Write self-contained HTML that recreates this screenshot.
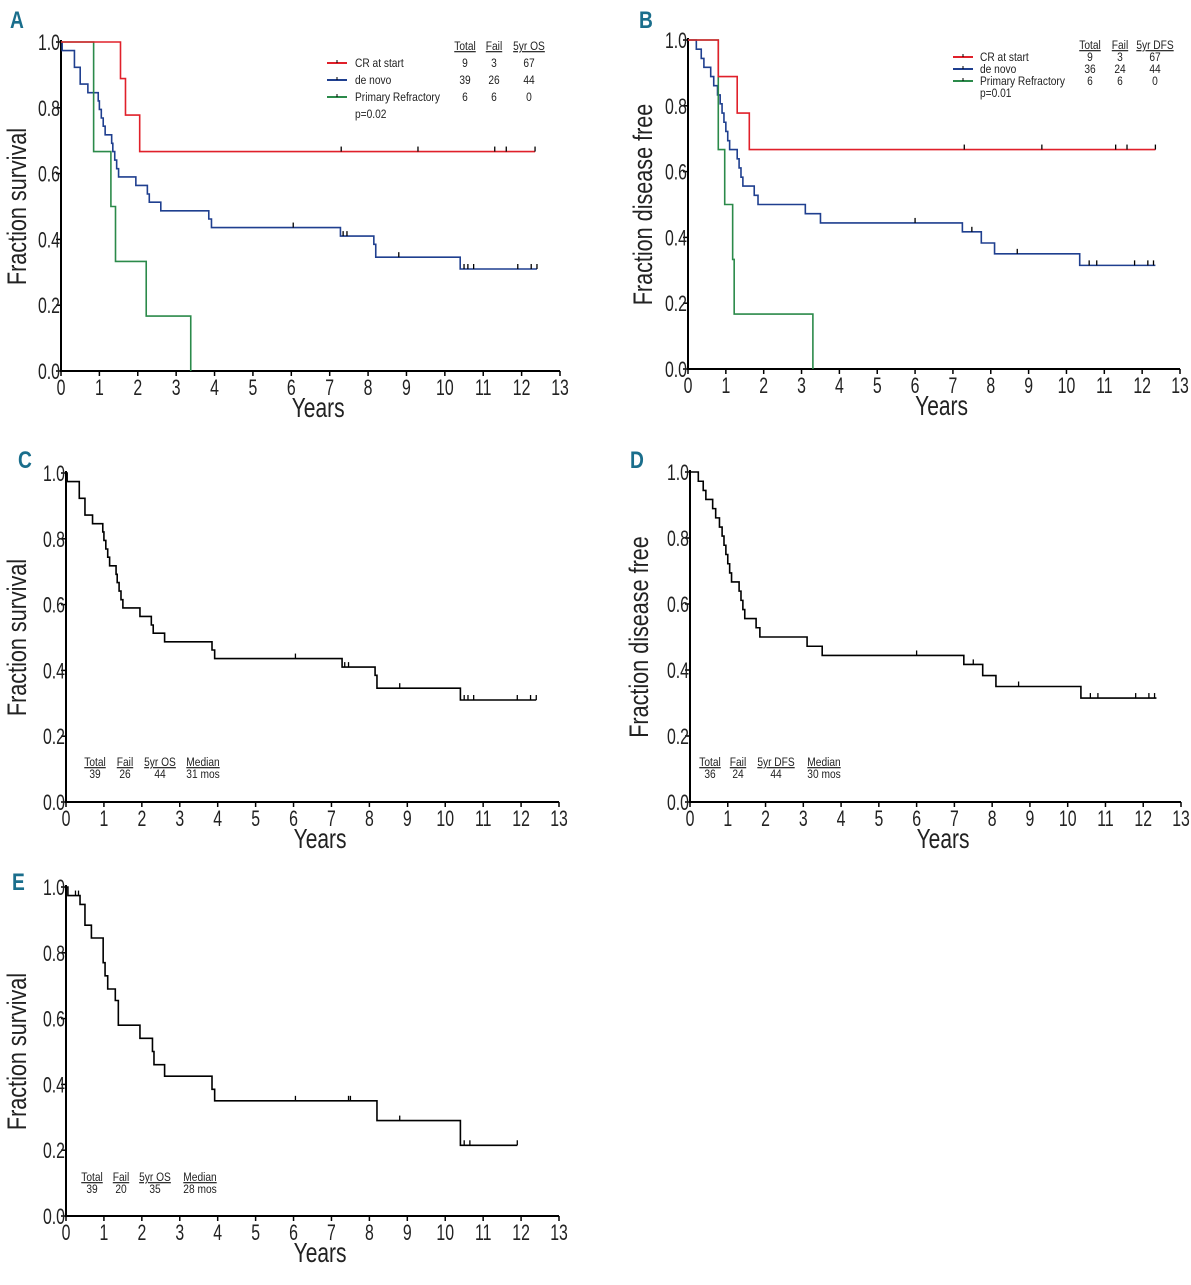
<!DOCTYPE html>
<html><head><meta charset="utf-8"><style>
body{margin:0;background:#fff}
svg text{font-family:"Liberation Sans",sans-serif}
</style></head><body>
<svg id="fig" xmlns="http://www.w3.org/2000/svg" width="1191" height="1280" viewBox="0 0 1191 1280"></svg>
<script>
// ---- data ----
const tickYears = [0,1,2,3,4,5,6,7,8,9,10,11,12,13];
const tickFractions = ["0.0","0.2","0.4","0.6","0.8","1.0"];

const osDeNovoTimes = [0.03,0.35,0.5,0.7,0.97,1.0,1.05,1.1,1.15,1.32,1.35,1.4,1.45,1.5,1.95,2.25,2.3,2.6,3.85,3.92,7.28,8.15,8.2,10.4];
const osDeNovoSurv  = [0.974,0.923,0.872,0.846,0.821,0.795,0.769,0.744,0.718,0.692,0.667,0.641,0.615,0.59,0.564,0.538,0.513,0.487,0.462,0.436,0.41,0.385,0.346,0.31];
const osDeNovoEnd = 12.4;
const osDeNovoCensor = [6.05,7.35,7.45,8.8,10.5,10.6,10.75,11.9,12.25,12.4];

const osCRTimes = [1.55,1.68,2.05];
const osCRSurv  = [0.889,0.778,0.667];
const osCREnd = 12.35;
const osCRCensor = [7.3,9.3,11.3,11.6,12.35];

const osPRTimes = [0.85,1.3,1.42,2.22,3.38];
const osPRSurv  = [0.667,0.5,0.333,0.167,0];
const osPREnd = 3.38;

const dfsDeNovoTimes = [0.22,0.35,0.42,0.6,0.68,0.78,0.85,0.9,0.95,1.0,1.05,1.1,1.3,1.35,1.4,1.45,1.75,1.85,3.1,3.5,7.25,7.75,8.1,10.35];
const dfsDeNovoSurv  = [0.972,0.944,0.917,0.889,0.861,0.833,0.806,0.778,0.75,0.722,0.694,0.667,0.639,0.611,0.583,0.556,0.528,0.5,0.472,0.444,0.417,0.383,0.35,0.315];
const dfsDeNovoEnd = 12.35;
const dfsDeNovoCensor = [6.0,7.5,8.7,10.6,10.8,11.8,12.15,12.3];

const dfsCRTimes = [0.8,1.3,1.62];
const dfsCRSurv  = [0.889,0.778,0.667];
const dfsCREnd = 12.35;
const dfsCRCensor = [7.3,9.35,11.3,11.6,12.35];

const dfsPRTimes = [0.8,0.97,1.18,1.22,3.3];
const dfsPRSurv  = [0.667,0.5,0.333,0.167,0];
const dfsPREnd = 3.3;

const eTimes = [0.05,0.37,0.5,0.67,0.98,1.03,1.1,1.3,1.38,1.95,2.28,2.32,2.6,3.85,3.92,8.2,10.4];
const eSurv  = [0.974,0.947,0.884,0.845,0.77,0.73,0.69,0.655,0.58,0.54,0.5,0.46,0.425,0.385,0.35,0.29,0.215];
const eEnd = 11.9;
const eCensor = [0.25,0.33,6.05,7.45,7.5,8.8,10.5,10.65,11.9];

// ---- drawing ----
const NS="http://www.w3.org/2000/svg";
const svg=document.getElementById('fig');
function mk(tag,attrs,parent){const e=document.createElementNS(NS,tag);for(const k in attrs)e.setAttribute(k,attrs[k]);(parent||svg).appendChild(e);return e;}
function txt(s,attrs,parent){const e=mk('text',attrs,parent);e.textContent=s;return e;}
function ntxt(s,x,y,size,anchor,sx,rot,parent,extra){
  const a=Object.assign({x:0,y:0,'font-size':size,'text-anchor':anchor,fill:'#222',
    transform:`translate(${x} ${y}) rotate(${rot||0}) scale(${sx} 1)`},extra||{});
  return txt(s,a,parent);
}

function panel(p){
  const g=mk('g',{});
  
  
  const X=t=>p.x0+(p.x13-p.x0)*t/13;
  const Y=v=>p.y0+(p.y1-p.y0)*v;
  const lab=ntxt(p.letter,p.lx,p.ly,24,'start',0.8,0,g,{'font-weight':'bold',fill:'#1a6e8c'});
  
  
  const ax=mk('path',{d:`M${X(0)},${Y(1)-2}V${Y(0)}H${X(13)}`,stroke:'#000','stroke-width':2,fill:'none'},g);
  
  
  tickYears.forEach(t=>{
    mk('line',{x1:X(t),x2:X(t),y1:Y(0),y2:Y(0)+5,stroke:'#000','stroke-width':1.5},g);
    const tl=ntxt(String(t),X(t),Y(0)+24,22,'middle',0.72,0,g);
    
    
  });
  tickFractions.forEach((s,i)=>{
    const v=i*0.2;
    mk('line',{x1:X(0)-5,x2:X(0),y1:Y(v),y2:Y(v),stroke:'#000','stroke-width':1.5},g);
    const tl=ntxt(s,X(0)-1,Y(v)+8,22,'end',0.72,0,g);
    
    
  });
  const xt=ntxt('Years',X(6.7),Y(0)+46,28,'middle',0.75,0,g);
  
  
  const cy=(Y(0)+Y(1))/2;
  const yt=ntxt(p.ytitle,p.ytx,cy,27,'middle',0.8,-90,g);
  
  
  p.series.forEach(s=>{
    let d=`M${X(0)},${Y(1)}`;
    s.times.forEach((t,i)=>{d+=`H${X(t)}V${Y(s.surv[i])}`;});
    d+=`H${X(s.end)}`;
    const path=mk('path',{d,stroke:s.color,'stroke-width':s.w||1.6,fill:'none'},g);
    
    
    (s.censor||[]).forEach(c=>{
      let v=1;s.times.forEach((t,i)=>{if(t<=c)v=s.surv[i];});
      const m=mk('line',{x1:X(c),x2:X(c),y1:Y(v),y2:Y(v)-5,stroke:'#000','stroke-width':1.3},g);
      
      
    });
  });
  if(p.legend){
    const L=p.legend;
    L.head.forEach((h,i)=>{const t=ntxt(h,L.cols[i],L.y,12,'middle',0.85,0,g,{'text-decoration':'underline'});
      });
    L.rows.forEach((r,j)=>{
      const y=L.y+L.dy*(j+1);
      if(r.color){mk('line',{x1:L.lx,x2:L.lx+20,y1:y-4,y2:y-4,stroke:r.color,'stroke-width':2},g);
        mk('line',{x1:L.lx+10,x2:L.lx+10,y1:y-7,y2:y-4,stroke:'#000','stroke-width':1},g);}
      const t=ntxt(r.label,L.tx,y,12,'start',0.85,0,g);
      
      (r.vals||[]).forEach((v,i)=>ntxt(v,L.cols[i],y,12,'middle',0.85,0,g));
    });
  }
}

const blue='#1f3f8f',red='#e0202a',green='#2b8a4a';
panel({letter:'A',lx:10,ly:28,x0:61,x13:560,y0:371,y1:42,ytx:26,ytitle:'Fraction survival',
  series:[
    {name:'series-de-novo',times:osDeNovoTimes,surv:osDeNovoSurv,end:osDeNovoEnd,censor:osDeNovoCensor,color:blue},
    {name:'series-primary-refractory',times:osPRTimes,surv:osPRSurv,end:osPREnd,color:green},
    {name:'series-cr-at-start',times:osCRTimes,surv:osCRSurv,end:osCREnd,censor:osCRCensor,color:red}],
  legend:{y:50,dy:17,lx:327,tx:355,cols:[465,494,529],head:['Total','Fail','5yr OS'],
    rows:[{label:'CR at start',color:red,vals:['9','3','67']},{label:'de novo',color:blue,vals:['39','26','44']},
      {label:'Primary Refractory',color:green,vals:['6','6','0']},{label:'p=0.02'}]}});
panel({letter:'B',lx:639,ly:28,x0:688,x13:1180,y0:369,y1:40,ytx:652,ytitle:'Fraction disease free',
  series:[
    {name:'series-de-novo',times:dfsDeNovoTimes,surv:dfsDeNovoSurv,end:dfsDeNovoEnd,censor:dfsDeNovoCensor,color:blue},
    {name:'series-primary-refractory',times:dfsPRTimes,surv:dfsPRSurv,end:dfsPREnd,color:green},
    {name:'series-cr-at-start',times:dfsCRTimes,surv:dfsCRSurv,end:dfsCREnd,censor:dfsCRCensor,color:red}],
  legend:{y:49,dy:12,lx:953,tx:980,cols:[1090,1120,1155],head:['Total','Fail','5yr DFS'],
    rows:[{label:'CR at start',color:red,vals:['9','3','67']},{label:'de novo',color:blue,vals:['36','24','44']},
      {label:'Primary Refractory',color:green,vals:['6','6','0']},{label:'p=0.01'}]}});
panel({letter:'C',lx:18,ly:468,x0:66,x13:559,y0:802,y1:473,ytx:26,ytitle:'Fraction survival',
  series:[{name:'series-os-de-novo',times:osDeNovoTimes,surv:osDeNovoSurv,end:osDeNovoEnd,censor:osDeNovoCensor,color:'#000'}],
  legend:{y:766,dy:12,lx:0,tx:0,cols:[95,125,160,203],head:['Total','Fail','5yr OS','Median'],
    rows:[{label:'',vals:['39','26','44','31 mos']}]}});
panel({letter:'D',lx:630,ly:468,x0:690,x13:1181,y0:802,y1:472,ytx:648,ytitle:'Fraction disease free',
  series:[{name:'series-dfs-de-novo',times:dfsDeNovoTimes,surv:dfsDeNovoSurv,end:dfsDeNovoEnd,censor:dfsDeNovoCensor,color:'#000'}],
  legend:{y:766,dy:12,lx:0,tx:0,cols:[710,738,776,824],head:['Total','Fail','5yr DFS','Median'],
    rows:[{label:'',vals:['36','24','44','30 mos']}]}});
panel({letter:'E',lx:12,ly:890,x0:66,x13:559,y0:1216,y1:887,ytx:26,ytitle:'Fraction survival',
  series:[{name:'series-e',times:eTimes,surv:eSurv,end:eEnd,censor:eCensor,color:'#000'}],
  legend:{y:1181,dy:12,lx:0,tx:0,cols:[92,121,155,200],head:['Total','Fail','5yr OS','Median'],
    rows:[{label:'',vals:['39','20','35','28 mos']}]}});
</script>
</body></html>
